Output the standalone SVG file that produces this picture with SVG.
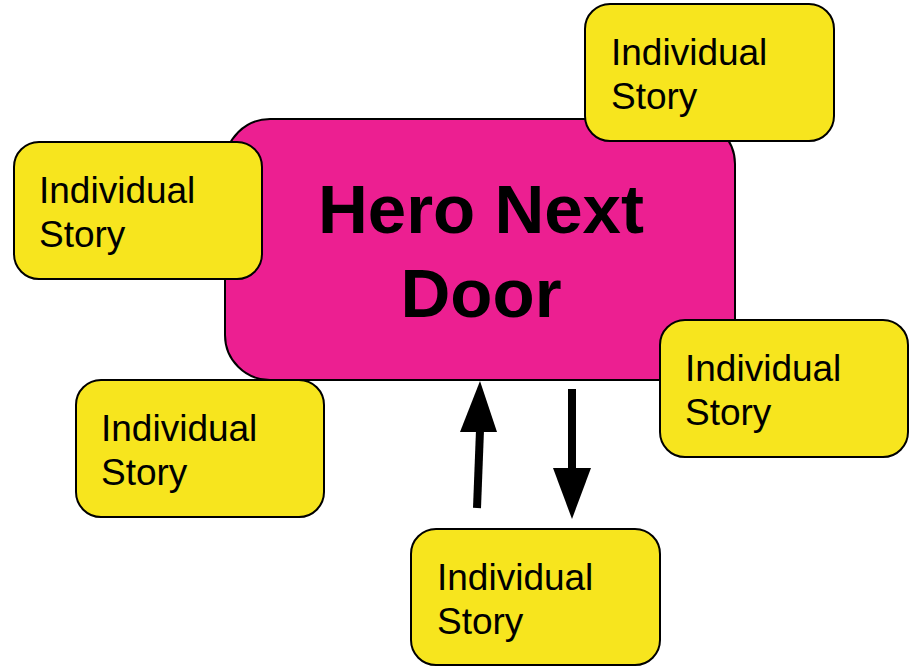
<svg xmlns="http://www.w3.org/2000/svg" width="915" height="667" viewBox="0 0 915 667">
  <style>
    .hero { fill: #EC1F91; stroke: #000; stroke-width: 2; }
    .story { fill: #F7E51E; stroke: #000; stroke-width: 2; }
    .story-text { font-family: "Liberation Sans", Arial, sans-serif; font-size: 37px; fill: #000; }
    .hero-text { font-family: "Liberation Sans", Arial, sans-serif; font-size: 69px; font-weight: bold; fill: #000; text-anchor: middle; }
    .shaft { stroke: #000; stroke-width: 8; fill: none; }
    .head { fill: #000; }
  </style>
  <rect width="915" height="667" fill="#fff"/>

  <g id="hero-next-door">
    <rect class="hero" x="225" y="119" width="510" height="261" rx="45" ry="45"/>
    <text class="hero-text" x="481" y="233">Hero Next</text>
    <text class="hero-text" x="481" y="317">Door</text>
  </g>

  <g id="story-top-right">
    <rect class="story" x="585" y="4" width="249" height="137" rx="25" ry="25"/>
    <text class="story-text" x="611" y="65">Individual</text>
    <text class="story-text" x="611" y="109">Story</text>
  </g>

  <g id="story-left">
    <rect class="story" x="14" y="142" width="248" height="137" rx="25" ry="25"/>
    <text class="story-text" x="39" y="203">Individual</text>
    <text class="story-text" x="39" y="247">Story</text>
  </g>

  <g id="story-bottom-left">
    <rect class="story" x="76" y="380" width="248" height="137" rx="25" ry="25"/>
    <text class="story-text" x="101" y="441">Individual</text>
    <text class="story-text" x="101" y="485">Story</text>
  </g>

  <g id="story-right">
    <rect class="story" x="660" y="320" width="248" height="137" rx="25" ry="25"/>
    <text class="story-text" x="685" y="381">Individual</text>
    <text class="story-text" x="685" y="425">Story</text>
  </g>

  <g id="story-bottom">
    <rect class="story" x="411" y="529" width="249" height="136" rx="25" ry="25"/>
    <text class="story-text" x="437" y="590">Individual</text>
    <text class="story-text" x="437" y="634">Story</text>
  </g>

  <g id="connectors">
    <!-- up arrow: bottom story to hero -->
    <line class="shaft" x1="477" y1="508" x2="480" y2="430"/>
    <polygon class="head" points="480,381 497,432 460,432"/>
    <!-- down arrow: hero to bottom story -->
    <line class="shaft" x1="572" y1="389" x2="572" y2="470"/>
    <polygon class="head" points="553,468 591,468 572,519"/>
  </g>
</svg>
